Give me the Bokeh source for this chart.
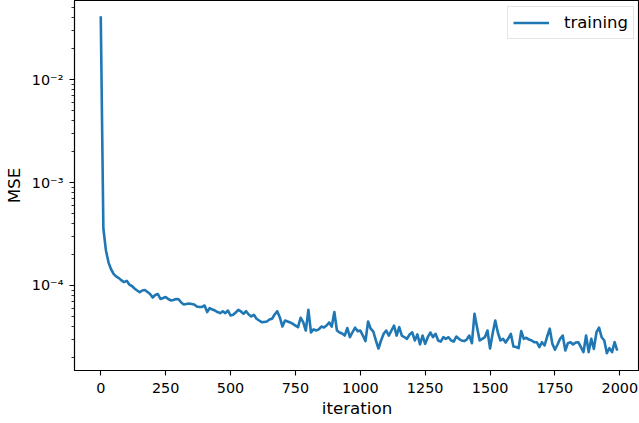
from bokeh.plotting import figure
from bokeh.models import Range1d, FixedTicker, Legend, LegendItem
from bokeh.embed import file_html
from bokeh.resources import INLINE

# ---- data -------------------------------------------------------------
iterations = list(range(0, 2000, 10))
mse = [
    4.15e-2, 3.58e-4, 2.19e-4, 1.67e-4, 1.43e-4, 1.29e-4, 1.22e-4, 1.18e-4, 1.12e-4, 1.08e-4,
    1.11e-4, 1.02e-4, 9.89e-5, 9.35e-5, 8.94e-5, 8.60e-5, 8.94e-5, 9.04e-5, 8.64e-5, 8.27e-5,
    7.64e-5, 8.08e-5, 8.27e-5, 7.39e-5, 7.55e-5, 7.73e-5, 7.39e-5, 7.15e-5, 7.23e-5, 7.39e-5,
    7.34e-5, 6.83e-5, 6.54e-5, 6.61e-5, 6.68e-5, 6.61e-5, 6.54e-5, 6.25e-5, 6.18e-5, 6.18e-5,
    6.39e-5, 5.52e-5, 6.04e-5, 5.84e-5, 5.71e-5, 5.52e-5, 5.38e-5, 5.62e-5, 5.38e-5, 5.71e-5,
    5.11e-5, 5.19e-5, 5.46e-5, 5.80e-5, 5.59e-5, 5.31e-5, 5.62e-5, 5.22e-5, 5.00e-5, 5.19e-5,
    4.75e-5, 4.57e-5, 4.40e-5, 4.42e-5, 4.47e-5, 4.67e-5, 4.75e-5, 5.22e-5, 5.62e-5, 4.89e-5,
    3.99e-5, 4.57e-5, 4.47e-5, 4.37e-5, 4.23e-5, 4.08e-5, 3.93e-5, 4.86e-5, 4.40e-5, 3.65e-5,
    5.80e-5, 3.49e-5, 3.74e-5, 3.65e-5, 3.74e-5, 3.99e-5, 3.91e-5, 4.08e-5, 4.37e-5, 3.99e-5,
    5.52e-5, 3.65e-5, 3.49e-5, 3.41e-5, 3.26e-5, 3.86e-5, 3.15e-5, 3.51e-5, 3.89e-5, 3.60e-5,
    3.65e-5, 3.26e-5, 2.88e-5, 4.47e-5, 3.80e-5, 3.57e-5, 2.92e-5, 2.44e-5, 2.92e-5, 3.39e-5,
    3.65e-5, 3.26e-5, 3.65e-5, 4.08e-5, 3.26e-5, 3.93e-5, 3.26e-5, 3.14e-5, 3.03e-5, 3.34e-5,
    3.51e-5, 2.92e-5, 3.34e-5, 2.67e-5, 3.26e-5, 2.71e-5, 3.14e-5, 3.49e-5, 3.15e-5, 3.39e-5,
    2.92e-5, 2.85e-5, 3.14e-5, 3.03e-5, 3.14e-5, 2.92e-5, 2.85e-5, 3.19e-5, 3.03e-5, 2.92e-5,
    2.88e-5, 2.98e-5, 3.26e-5, 2.75e-5, 5.31e-5, 3.91e-5, 2.92e-5, 3.03e-5, 3.14e-5, 3.65e-5,
    2.44e-5, 3.41e-5, 4.57e-5, 3.49e-5, 2.92e-5, 3.03e-5, 2.79e-5, 3.05e-5, 3.39e-5, 2.55e-5,
    2.52e-5, 2.46e-5, 3.60e-5, 3.03e-5, 3.10e-5, 2.98e-5, 2.92e-5, 2.81e-5, 2.81e-5, 2.52e-5,
    2.81e-5, 2.61e-5, 3.19e-5, 3.80e-5, 2.71e-5, 2.37e-5, 2.67e-5, 3.03e-5, 3.26e-5, 2.33e-5,
    2.75e-5, 2.81e-5, 2.67e-5, 2.79e-5, 2.81e-5, 2.52e-5, 2.25e-5, 3.26e-5, 2.25e-5, 3.03e-5,
    2.42e-5, 3.51e-5, 3.89e-5, 3.14e-5, 2.92e-5, 2.20e-5, 2.46e-5, 2.25e-5, 2.81e-5, 2.33e-5,
]
x_ticks = [0, 250, 500, 750, 1000, 1250, 1500, 1750, 2000]
y_ticks = [1e-4, 1e-3, 1e-2]
y_tick_labels = {1e-4: "10⁻⁴", 1e-3: "10⁻³", 1e-2: "10⁻²"}
series_name = "training"
x_label = "iteration"
y_label = "MSE"

# ---- figure -----------------------------------------------------------
FONT = "DejaVu Sans"
BLUE = "#1f77b4"

p = figure(width=639, height=423, output_backend="svg", toolbar_location=None,
           y_axis_type="log",
           x_range=Range1d(-101.2, 2075.8), y_range=Range1d(1.491e-5, 5.9e-2),
           min_border_left=73, min_border_right=0, min_border_top=0, min_border_bottom=53)
p.grid.visible = False
p.outline_line_color = "black"
p.outline_line_width = 1.1
p.background_fill_color = "white"
p.border_fill_color = "white"

line = p.line(iterations, mse, line_width=2.6, line_color=BLUE, line_join="round")

minor = [m * 10.0 ** e for e in (-5, -4, -3, -2) for m in range(2, 10)]
p.xaxis[0].ticker = FixedTicker(ticks=x_ticks, minor_ticks=[])
p.yaxis[0].ticker = FixedTicker(ticks=y_ticks, minor_ticks=minor)
p.yaxis[0].major_label_overrides = y_tick_labels
p.xaxis[0].axis_label = x_label
p.yaxis[0].axis_label = y_label

for ax in (p.xaxis[0], p.yaxis[0]):
    ax.axis_line_color = "black"
    ax.axis_line_width = 1.1
    ax.major_tick_line_color = "black"
    ax.major_tick_line_width = 1.1
    ax.major_tick_in = 0
    ax.major_tick_out = 5
    ax.minor_tick_line_color = "black"
    ax.minor_tick_line_width = 0.8
    ax.minor_tick_in = 0
    ax.minor_tick_out = 3
    ax.major_label_text_font = FONT
    ax.major_label_text_font_size = "14.4px"
    ax.major_label_text_color = "black"
    ax.axis_label_text_font = FONT
    ax.axis_label_text_font_size = "16.7px"
    ax.axis_label_text_font_style = "normal"
    ax.axis_label_text_color = "black"

p.xaxis[0].major_label_standoff = 7
p.xaxis[0].axis_label_standoff = 2
p.yaxis[0].major_label_standoff = 6
p.yaxis[0].axis_label_standoff = 5

legend = Legend(items=[LegendItem(label=series_name, renderers=[line])],
                location=(433, 331), margin=0, padding=5, spacing=0,
                glyph_width=36, glyph_height=21, label_standoff=15,
                label_text_font=FONT, label_text_font_size="16.5px",
                label_text_color="black",
                border_line_color="#cccccc", border_line_width=1,
                background_fill_color="white", background_fill_alpha=0.8)
p.add_layout(legend)

open("out.html", "w").write(file_html(p, INLINE))
